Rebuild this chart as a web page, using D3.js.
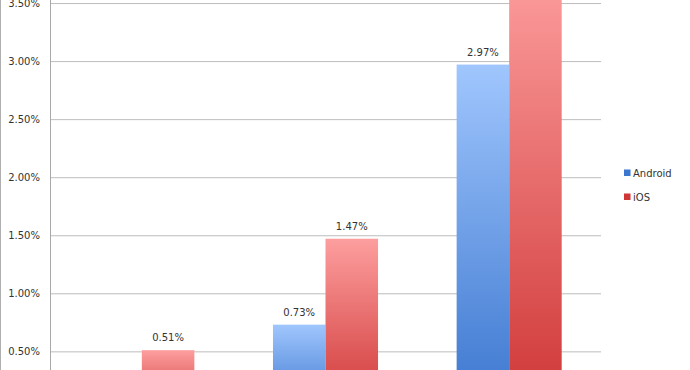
<!DOCTYPE html>
<html><head><meta charset="utf-8">
<script src="https://cdn.jsdelivr.net/npm/d3@7"></script>
<style>body{margin:0;background:#fff}svg{display:block}</style>
</head><body>
<svg id="c" width="690" height="370"></svg>
<script>
const categories = ["Group 1", "Group 2", "Group 3"];
const series = ["Android", "iOS"];
const android = [0.05, 0.73, 2.97];
const ios = [0.51, 1.47, 3.80];
const tickValues = [0.5, 1.0, 1.5, 2.0, 2.5, 3.0, 3.5];

const svg = d3.select("#c");
const W = 690, H = 370;
const left = 50, right = 601;
const y = d3.scaleLinear().domain([0, 4]).range([409.4, 409.4 - 4 * 116.1]);
const x0 = d3.scaleBand().domain(categories).range([left, right]).paddingInner(0.428).paddingOuter(0.214);
const x1 = d3.scaleBand().domain(series).range([0, x0.bandwidth()]);
const colors = {Android: ["#a0c6fd", "#3b76cf"], iOS: ["#fd9e9e", "#cf3636"]};

const defs = svg.append("defs");
series.forEach(s => {
  const g = defs.append("linearGradient").attr("id", "g-" + s).attr("x1", 0).attr("y1", 0).attr("x2", 0).attr("y2", 1);
  g.append("stop").attr("offset", "0%").attr("stop-color", colors[s][0]);
  g.append("stop").attr("offset", "100%").attr("stop-color", colors[s][1]);
});

// left frame line
svg.append("line").attr("x1", 0.5).attr("x2", 0.5).attr("y1", 0).attr("y2", H).attr("stroke", "#b0b0b0");

// gridlines
const yAxis = d3.axisLeft(y).tickValues(tickValues).tickSize(-(right - left)).tickPadding(10)
  .tickFormat(d => d3.format(".2f")(d) + "%");
const ga = svg.append("g").attr("transform", `translate(${left},0)`).call(yAxis);
ga.select(".domain").remove();
ga.selectAll(".tick line").attr("stroke", "#bdbdbd").attr("stroke-width", 1);
ga.selectAll(".tick text").attr("fill", "#333").style("font-family", "DejaVu Sans").style("font-size", "10px");
svg.append("line").attr("x1", left + 0.5).attr("x2", left + 0.5).attr("y1", 0).attr("y2", H).attr("stroke", "#a8a8a8");

const data = categories.map((c, i) => ({cat: c, vals: [{s: "Android", v: android[i]}, {s: "iOS", v: ios[i]}]}));
const groups = svg.selectAll("g.grp").data(data).join("g").attr("class", "grp")
  .attr("transform", d => `translate(${x0(d.cat)},0)`);
groups.selectAll("rect").data(d => d.vals).join("rect")
  .attr("x", d => x1(d.s)).attr("width", x1.bandwidth())
  .attr("y", d => y(d.v)).attr("height", d => y(0) - y(d.v))
  .attr("fill", d => `url(#g-${d.s})`);
groups.selectAll("text").data(d => d.vals).join("text")
  .attr("x", d => x1(d.s) + x1.bandwidth() / 2).attr("y", d => y(d.v) - 9)
  .attr("text-anchor", "middle").attr("fill", "#333")
  .style("font-family", "DejaVu Sans").style("font-size", "10px")
  .text(d => d3.format(".2f")(d.v) + "%");

// legend
const lg = svg.append("g").attr("transform", "translate(624,0)");
series.forEach((s, i) => {
  const cy = 173 + i * 24;
  lg.append("rect").attr("x", 0).attr("y", cy - 3.5).attr("width", 6.5).attr("height", 6.5).attr("fill", colors[s][1]);
  lg.append("text").attr("x", 9).attr("y", cy).attr("dy", "0.35em").attr("fill", "#333")
    .style("font-family", "DejaVu Sans").style("font-size", "10px").text(s);
});
</script>
</body></html>
